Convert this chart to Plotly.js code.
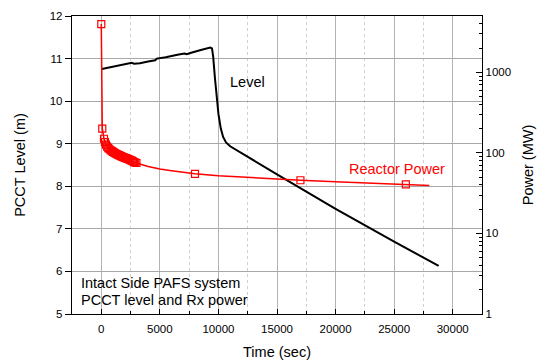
<!DOCTYPE html>
<html>
<head>
<meta charset="utf-8">
<script src="https://cdn.plot.ly/plotly-3.0.1.min.js"></script>
<style>html,body{margin:0;padding:0;background:#fff;}#chart{width:541px;height:360px;}</style>
</head>
<body>
<div id="chart"></div>
<script>
// PCCT level (m) vs time (s)
const levelTime = [50, 1000, 2000, 2600, 2800, 3300, 4000, 4600, 4750, 5500, 6500, 7100, 7300, 7600, 8500, 9300, 9450, 9550, 9700, 9860, 10000, 10200, 10400, 10650, 11000, 15000, 20000, 25000, 28800];
const levelM    = [10.755, 10.81, 10.87, 10.90, 10.88, 10.89, 10.93, 10.96, 11.00, 11.03, 11.09, 11.12, 11.10, 11.13, 11.20, 11.26, 11.24, 11.05, 10.55, 10.03, 9.70, 9.36, 9.16, 9.03, 8.94, 8.28, 7.47, 6.70, 6.13];

// Reactor power (MW) line vs time (s)
const powerTime = [0, 85, 230, 315, 400, 500, 600, 700, 800, 900, 1000, 1100, 1200, 1300, 1400, 1500, 1600, 1700, 1800, 1900, 2000, 2100, 2200, 2300, 2400, 2500, 2600, 2700, 2800, 2900, 3000, 4000, 5000, 6000, 7000, 8000, 10000, 12000, 14000, 17000, 20000, 23000, 26000, 28000];
const powerMW   = [3983, 200, 150, 136, 127, 120, 115, 111, 108, 105, 103, 101, 99, 97, 95.5, 94, 92.5, 91, 89.5, 88.5, 87, 86, 85, 84, 82.5, 81.5, 80, 78.5, 77, 76, 75, 68, 63, 60, 57, 55, 52, 50, 48, 45.8, 43.8, 42.2, 40.8, 39.5];

// Reactor power symbol points
const markTime = [0, 85, 230, 315, 400, 500, 600, 700, 800, 900, 1000, 1100, 1200, 1300, 1400, 1500, 1600, 1700, 1800, 1900, 2000, 2100, 2200, 2300, 2400, 2500, 2600, 2700, 2800, 2900, 3000, 8000, 17000, 26000];
const markMW   = [3983, 200, 150, 136, 127, 120, 115, 111, 108, 105, 103, 101, 99, 97, 95.5, 94, 92.5, 91, 89.5, 88.5, 87, 86, 85, 84, 82.5, 81.5, 80, 78.5, 77, 76, 75, 55, 45.8, 40.8];

const xTicks = [0, 5000, 10000, 15000, 20000, 25000, 30000];
const yTicks = [5, 6, 7, 8, 9, 10, 11, 12];
const y2Ticks = [1, 10, 100, 1000];

const FONT = 'Liberation Sans, Arial, sans-serif';
const traces = [
  {x: levelTime, y: levelM, mode: 'lines', line: {color: '#000000', width: 2}, yaxis: 'y', hoverinfo: 'skip'},
  {x: powerTime, y: powerMW, mode: 'lines', line: {color: '#ff0000', width: 1.5}, yaxis: 'y2', hoverinfo: 'skip'},
  {x: markTime, y: markMW, mode: 'markers', marker: {symbol: 'square-open', size: 7, color: '#ff0000', line: {width: 1.2}}, yaxis: 'y2', hoverinfo: 'skip'}
];

const layout = {
  width: 541, height: 360,
  margin: {l: 72, r: 59, t: 16, b: 46},
  paper_bgcolor: '#ffffff', plot_bgcolor: '#ffffff',
  showlegend: false,
  font: {family: FONT, size: 11.5, color: '#000'},
  xaxis: {
    range: [-2500, 32500], tickvals: xTicks, ticktext: xTicks.map(String),
    showline: true, linecolor: '#000', linewidth: 1.2, mirror: true,
    ticks: 'inside', ticklen: 5, tickcolor: '#000', ticklabelstandoff: 4,
    showgrid: true, gridcolor: '#b4b4b4', gridwidth: 1, zeroline: false,
    minor: {dtick: 2500, tick0: 0, ticks: 'inside', ticklen: 3, tickcolor: '#000', showgrid: true, gridcolor: '#d0d0d0', griddash: 'dot', gridwidth: 1},
    title: {text: 'Time (sec)', font: {size: 14.5, family: FONT}, standoff: 14},
    tickfont: {size: 11.5}
  },
  yaxis: {
    range: [5, 12], tickvals: yTicks, ticktext: yTicks.map(String),
    showline: true, linecolor: '#000', linewidth: 1.2,
    ticks: 'outside', ticklen: 6, tickcolor: '#000',
    showgrid: true, gridcolor: '#a8a8a8', gridwidth: 1, zeroline: false,
    title: {text: 'PCCT Level (m)', font: {size: 14.5, family: FONT}, standoff: 20},
    tickfont: {size: 11.5}
  },
  yaxis2: {
    type: 'log', range: [0, 3.7], overlaying: 'y', side: 'right',
    tickmode: 'array', tickvals: y2Ticks, ticktext: y2Ticks.map(String),
    showline: true, linecolor: '#000', linewidth: 1.2,
    ticks: 'inside', ticklen: 6, tickcolor: '#000',
    minor: {ticks: 'inside', ticklen: 3, tickcolor: '#000', showgrid: false, dtick: 'D1'},
    showgrid: false, zeroline: false,
    title: {text: 'Power (MW)', font: {size: 14.5, family: FONT}, standoff: 12},
    tickfont: {size: 11.5}
  },
  annotations: [
    {x: 10830, y: 10.46, xref: 'x', yref: 'y', text: 'Level', showarrow: false, xanchor: 'left', yanchor: 'middle', font: {size: 14.5, color: '#000', family: FONT}},
    {x: 21000, y: 8.40, xref: 'x', yref: 'y', text: 'Reactor Power', showarrow: false, xanchor: 'left', yanchor: 'middle', font: {size: 14.5, color: '#ff0000', family: FONT}},
    {x: 0.016, y: (314 - 282.7) / 298, xref: 'paper', yref: 'paper', text: 'Intact Side PAFS system', showarrow: false, xanchor: 'left', yanchor: 'middle', font: {size: 14.5, color: '#000', family: FONT}},
    {x: 0.016, y: (314 - 299.5) / 298, xref: 'paper', yref: 'paper', text: 'PCCT level and Rx power', showarrow: false, xanchor: 'left', yanchor: 'middle', font: {size: 14.5, color: '#000', family: FONT}}
  ]
};

Plotly.newPlot('chart', traces, layout, {staticPlot: true, displayModeBar: false});
</script>
</body>
</html>
